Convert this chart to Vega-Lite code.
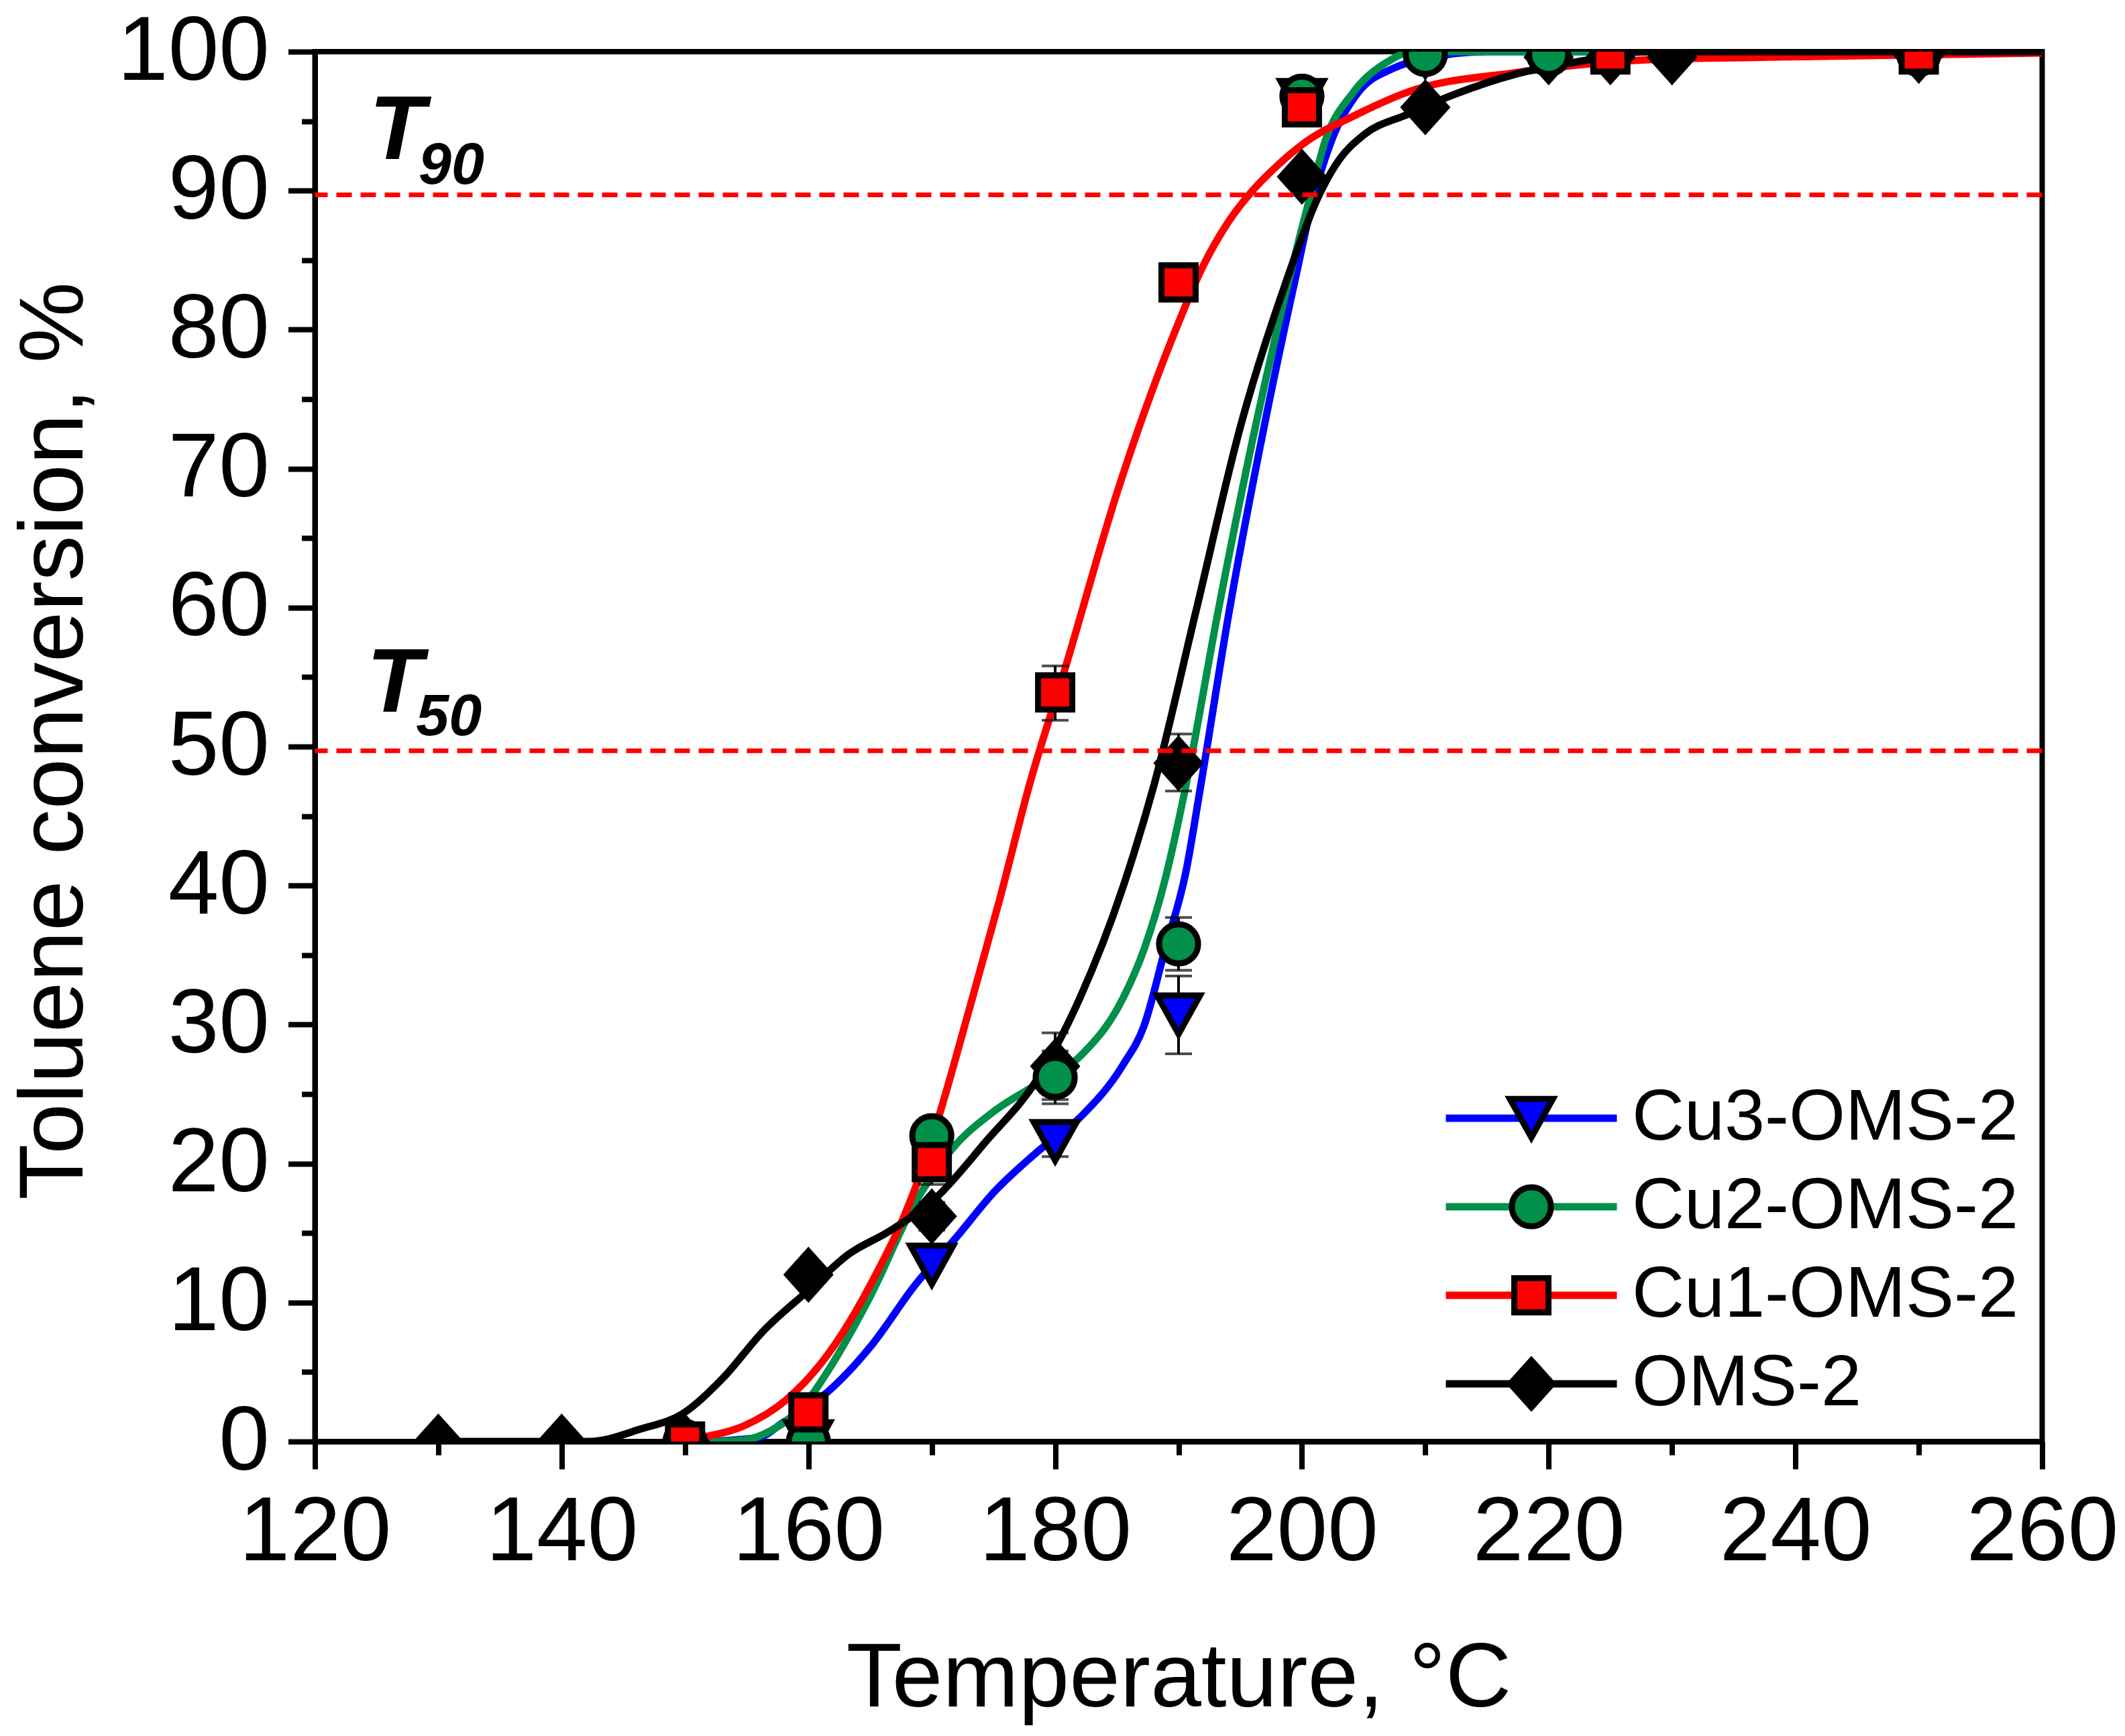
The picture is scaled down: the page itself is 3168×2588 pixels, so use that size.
{
  "$schema": "https://vega.github.io/schema/vega-lite/v6.json",
  "width": 2575,
  "height": 2072,
  "autosize": {"type": "none"},
  "padding": {"left": 469.5, "top": 77, "right": 123.5, "bottom": 439},
  "background": "white",
  "datasets": {
    "curves": [
      {"sample": "Cu3-OMS-2", "T": 152, "conv": 0},
      {"sample": "Cu3-OMS-2", "T": 156, "conv": 0.3},
      {"sample": "Cu3-OMS-2", "T": 158, "conv": 1.4},
      {"sample": "Cu3-OMS-2", "T": 161.6, "conv": 3.6},
      {"sample": "Cu3-OMS-2", "T": 165.1, "conv": 6.9},
      {"sample": "Cu3-OMS-2", "T": 168.6, "conv": 11.2},
      {"sample": "Cu3-OMS-2", "T": 172, "conv": 14.7},
      {"sample": "Cu3-OMS-2", "T": 175.1, "conv": 18.0},
      {"sample": "Cu3-OMS-2", "T": 178.5, "conv": 20.8},
      {"sample": "Cu3-OMS-2", "T": 182, "conv": 23.3},
      {"sample": "Cu3-OMS-2", "T": 185.5, "conv": 27.1},
      {"sample": "Cu3-OMS-2", "T": 187.2, "conv": 29.9},
      {"sample": "Cu3-OMS-2", "T": 188.9, "conv": 35.4},
      {"sample": "Cu3-OMS-2", "T": 190.6, "conv": 41.0},
      {"sample": "Cu3-OMS-2", "T": 191.8, "conv": 47.2},
      {"sample": "Cu3-OMS-2", "T": 194.1, "conv": 59.7},
      {"sample": "Cu3-OMS-2", "T": 197, "conv": 73.3},
      {"sample": "Cu3-OMS-2", "T": 199.4, "conv": 83.4},
      {"sample": "Cu3-OMS-2", "T": 201, "conv": 89.7},
      {"sample": "Cu3-OMS-2", "T": 202.4, "conv": 93.6},
      {"sample": "Cu3-OMS-2", "T": 204.5, "conv": 97.0},
      {"sample": "Cu3-OMS-2", "T": 207.4, "conv": 98.8},
      {"sample": "Cu3-OMS-2", "T": 210, "conv": 99.5},
      {"sample": "Cu3-OMS-2", "T": 215, "conv": 100},
      {"sample": "Cu3-OMS-2", "T": 260, "conv": 100},

      {"sample": "Cu2-OMS-2", "T": 152, "conv": 0},
      {"sample": "Cu2-OMS-2", "T": 154.7, "conv": 0.1},
      {"sample": "Cu2-OMS-2", "T": 157, "conv": 0.8},
      {"sample": "Cu2-OMS-2", "T": 159.9, "conv": 2.9},
      {"sample": "Cu2-OMS-2", "T": 161.6, "conv": 5.1},
      {"sample": "Cu2-OMS-2", "T": 165.1, "conv": 10.6},
      {"sample": "Cu2-OMS-2", "T": 168.6, "conv": 17.1},
      {"sample": "Cu2-OMS-2", "T": 171.6, "conv": 21.0},
      {"sample": "Cu2-OMS-2", "T": 175.1, "conv": 23.8},
      {"sample": "Cu2-OMS-2", "T": 178.5, "conv": 25.7},
      {"sample": "Cu2-OMS-2", "T": 182, "conv": 27.7},
      {"sample": "Cu2-OMS-2", "T": 185.5, "conv": 31.9},
      {"sample": "Cu2-OMS-2", "T": 187.2, "conv": 35.4},
      {"sample": "Cu2-OMS-2", "T": 188.9, "conv": 40.4},
      {"sample": "Cu2-OMS-2", "T": 190.6, "conv": 47.2},
      {"sample": "Cu2-OMS-2", "T": 193.2, "conv": 59.7},
      {"sample": "Cu2-OMS-2", "T": 196.3, "conv": 73.3},
      {"sample": "Cu2-OMS-2", "T": 198.9, "conv": 83.4},
      {"sample": "Cu2-OMS-2", "T": 200.7, "conv": 89.7},
      {"sample": "Cu2-OMS-2", "T": 201.9, "conv": 93.6},
      {"sample": "Cu2-OMS-2", "T": 204.1, "conv": 97.0},
      {"sample": "Cu2-OMS-2", "T": 207, "conv": 99.3},
      {"sample": "Cu2-OMS-2", "T": 209, "conv": 100},
      {"sample": "Cu2-OMS-2", "T": 260, "conv": 100},

      {"sample": "Cu1-OMS-2", "T": 150, "conv": 0},
      {"sample": "Cu1-OMS-2", "T": 151.2, "conv": 0.25},
      {"sample": "Cu1-OMS-2", "T": 154.7, "conv": 1.1},
      {"sample": "Cu1-OMS-2", "T": 158.2, "conv": 3.0},
      {"sample": "Cu1-OMS-2", "T": 161.6, "conv": 6.3},
      {"sample": "Cu1-OMS-2", "T": 165.1, "conv": 11.4},
      {"sample": "Cu1-OMS-2", "T": 168.6, "conv": 18.1},
      {"sample": "Cu1-OMS-2", "T": 170.3, "conv": 22.6},
      {"sample": "Cu1-OMS-2", "T": 173.1, "conv": 31.3},
      {"sample": "Cu1-OMS-2", "T": 175.5, "conv": 39.0},
      {"sample": "Cu1-OMS-2", "T": 177.9, "conv": 47.2},
      {"sample": "Cu1-OMS-2", "T": 180.8, "conv": 55.6},
      {"sample": "Cu1-OMS-2", "T": 185.1, "conv": 68.5},
      {"sample": "Cu1-OMS-2", "T": 190, "conv": 80.5},
      {"sample": "Cu1-OMS-2", "T": 192, "conv": 84.6},
      {"sample": "Cu1-OMS-2", "T": 194, "conv": 87.7},
      {"sample": "Cu1-OMS-2", "T": 196, "conv": 90.0},
      {"sample": "Cu1-OMS-2", "T": 198, "conv": 91.8},
      {"sample": "Cu1-OMS-2", "T": 200, "conv": 93.3},
      {"sample": "Cu1-OMS-2", "T": 204.5, "conv": 95.5},
      {"sample": "Cu1-OMS-2", "T": 208.6, "conv": 97.1},
      {"sample": "Cu1-OMS-2", "T": 217.4, "conv": 98.5},
      {"sample": "Cu1-OMS-2", "T": 227.6, "conv": 99.4},
      {"sample": "Cu1-OMS-2", "T": 237.7, "conv": 99.6},
      {"sample": "Cu1-OMS-2", "T": 260, "conv": 99.9},

      {"sample": "OMS-2", "T": 130, "conv": 0},
      {"sample": "OMS-2", "T": 140, "conv": 0},
      {"sample": "OMS-2", "T": 142.2, "conv": 0},
      {"sample": "OMS-2", "T": 146.4, "conv": 0.9},
      {"sample": "OMS-2", "T": 149.8, "conv": 2.0},
      {"sample": "OMS-2", "T": 153, "conv": 4.5},
      {"sample": "OMS-2", "T": 156.4, "conv": 8.0},
      {"sample": "OMS-2", "T": 159.9, "conv": 10.8},
      {"sample": "OMS-2", "T": 163.3, "conv": 13.5},
      {"sample": "OMS-2", "T": 166.5, "conv": 15.1},
      {"sample": "OMS-2", "T": 170.3, "conv": 17.5},
      {"sample": "OMS-2", "T": 174.4, "conv": 21.6},
      {"sample": "OMS-2", "T": 178.5, "conv": 26.0},
      {"sample": "OMS-2", "T": 182, "conv": 31.9},
      {"sample": "OMS-2", "T": 185.5, "conv": 39.9},
      {"sample": "OMS-2", "T": 188, "conv": 47.2},
      {"sample": "OMS-2", "T": 191.4, "conv": 59.7},
      {"sample": "OMS-2", "T": 195.1, "conv": 73.3},
      {"sample": "OMS-2", "T": 198.7, "conv": 83.4},
      {"sample": "OMS-2", "T": 201.4, "conv": 89.7},
      {"sample": "OMS-2", "T": 203, "conv": 92.2},
      {"sample": "OMS-2", "T": 205, "conv": 94.0},
      {"sample": "OMS-2", "T": 208.6, "conv": 95.5},
      {"sample": "OMS-2", "T": 212.3, "conv": 96.9},
      {"sample": "OMS-2", "T": 217.4, "conv": 98.4},
      {"sample": "OMS-2", "T": 222.5, "conv": 99.3},
      {"sample": "OMS-2", "T": 228, "conv": 100},
      {"sample": "OMS-2", "T": 260, "conv": 100}
    ],
    "points": [
      {"sample": "Cu3-OMS-2", "T": 160, "conv": 0},
      {"sample": "Cu3-OMS-2", "T": 170, "conv": 12.7},
      {"sample": "Cu3-OMS-2", "T": 180, "conv": 21.6, "lo": 20.5, "hi": 22.7},
      {"sample": "Cu3-OMS-2", "T": 190, "conv": 30.7, "lo": 27.9, "hi": 33.5},
      {"sample": "Cu3-OMS-2", "T": 200, "conv": 96.5},
      {"sample": "Cu3-OMS-2", "T": 210, "conv": 99.7},
      {"sample": "Cu3-OMS-2", "T": 220, "conv": 99.5},
      {"sample": "Cu3-OMS-2", "T": 225, "conv": 99.5},
      {"sample": "Cu3-OMS-2", "T": 230, "conv": 99.4},
      {"sample": "Cu3-OMS-2", "T": 250, "conv": 99.5},
      {"sample": "OMS-2", "T": 130, "conv": 0},
      {"sample": "OMS-2", "T": 140, "conv": 0},
      {"sample": "OMS-2", "T": 150, "conv": 0},
      {"sample": "OMS-2", "T": 160, "conv": 12.0},
      {"sample": "OMS-2", "T": 170, "conv": 16.2, "lo": 15.2, "hi": 17.2},
      {"sample": "OMS-2", "T": 180, "conv": 27.0, "lo": 24.6, "hi": 29.4},
      {"sample": "OMS-2", "T": 190, "conv": 48.8, "lo": 46.8, "hi": 50.9},
      {"sample": "OMS-2", "T": 200, "conv": 91.0},
      {"sample": "OMS-2", "T": 210, "conv": 96.0},
      {"sample": "OMS-2", "T": 220, "conv": 99.6},
      {"sample": "OMS-2", "T": 225, "conv": 99.6},
      {"sample": "OMS-2", "T": 230, "conv": 99.6},
      {"sample": "OMS-2", "T": 250, "conv": 99.7},
      {"sample": "Cu2-OMS-2", "T": 150, "conv": 0},
      {"sample": "Cu2-OMS-2", "T": 160, "conv": 0},
      {"sample": "Cu2-OMS-2", "T": 170, "conv": 22.0, "lo": 20.8, "hi": 23.2},
      {"sample": "Cu2-OMS-2", "T": 180, "conv": 26.2, "lo": 24.3, "hi": 28.1},
      {"sample": "Cu2-OMS-2", "T": 190, "conv": 35.8, "lo": 33.9, "hi": 37.7},
      {"sample": "Cu2-OMS-2", "T": 200, "conv": 96.8, "lo": 95.6, "hi": 98.0},
      {"sample": "Cu2-OMS-2", "T": 210, "conv": 99.8},
      {"sample": "Cu2-OMS-2", "T": 220, "conv": 99.8},
      {"sample": "Cu2-OMS-2", "T": 250, "conv": 99.8},
      {"sample": "Cu1-OMS-2", "T": 150, "conv": 0},
      {"sample": "Cu1-OMS-2", "T": 160, "conv": 2.1},
      {"sample": "Cu1-OMS-2", "T": 170, "conv": 20.1, "lo": 18.5, "hi": 21.7},
      {"sample": "Cu1-OMS-2", "T": 180, "conv": 53.9, "lo": 51.9, "hi": 55.8},
      {"sample": "Cu1-OMS-2", "T": 190, "conv": 83.4},
      {"sample": "Cu1-OMS-2", "T": 200, "conv": 96.0, "lo": 95.3, "hi": 96.7},
      {"sample": "Cu1-OMS-2", "T": 225, "conv": 99.8},
      {"sample": "Cu1-OMS-2", "T": 250, "conv": 99.8}
    ],
    "levels": [
      {"level": 89.7},
      {"level": 49.7}
    ],
    "notes": [
      {"kind": "main", "T": 124.4, "conv": 92.3, "label": "T"},
      {"kind": "sub", "T": 128.4, "conv": 90.5, "label": "90"},
      {"kind": "main", "T": 124.2, "conv": 52.5, "label": "T"},
      {"kind": "sub", "T": 128.2, "conv": 50.8, "label": "50"}
    ]
  },
  "layer": [
    {
      "data": {"name": "curves"},
      "mark": {"type": "line", "strokeWidth": 11, "interpolate": "monotone", "clip": true, "strokeCap": "round"},
      "encoding": {
        "x": {
          "field": "T", "type": "quantitative",
          "scale": {"domain": [120, 260], "nice": false, "zero": false},
          "axis": {
            "orient": "bottom",
            "values": [120, 140, 160, 180, 200, 220, 240, 260],
            "title": "Temperature, °C",
            "titleX": 1287.5, "titleY": 394, "titleAlign": "center", "titleBaseline": "alphabetic",
            "tickSize": 41, "labelPadding": 28
          }
        },
        "y": {
          "field": "conv", "type": "quantitative",
          "scale": {"domain": [0, 100], "nice": false, "zero": false},
          "axis": {
            "orient": "left",
            "values": [0, 10, 20, 30, 40, 50, 60, 70, 80, 90, 100],
            "title": "Toluene conversion, %",
            "titleX": -347.5, "titleY": 1027, "titleAngle": -90, "titleAlign": "center", "titleBaseline": "alphabetic",
            "tickSize": 40, "labelPadding": 28
          }
        },
        "color": {
          "field": "sample", "type": "nominal",
          "sort": ["Cu3-OMS-2", "Cu2-OMS-2", "Cu1-OMS-2", "OMS-2"],
          "scale": {"range": ["#0000FF", "#00904A", "#FF0000", "#000000"]},
          "legend": {
            "orient": "none", "legendX": 1759.5, "legendY": 1536, "title": null,
            "symbolType": "M-4.25,0H4.25", "symbolSize": 3600, "symbolStrokeWidth": 11,
            "labelFontSize": 108, "labelOffset": 96, "rowPadding": 24, "padding": 0
          }
        }
      }
    },
    {
      "data": {"name": "points"},
      "transform": [{"filter": "isValid(datum.lo)"}],
      "mark": {"type": "rule", "color": "black", "strokeWidth": 4, "clip": true},
      "encoding": {
        "x": {
          "field": "T", "type": "quantitative",
          "axis": {
            "orient": "bottom",
            "values": [130, 150, 170, 190, 210, 230, 250],
            "labels": false, "domain": false, "title": null, "tickSize": 20
          }
        },
        "y": {
          "field": "lo", "type": "quantitative",
          "axis": {
            "orient": "left",
            "values": [5, 15, 25, 35, 45, 55, 65, 75, 85, 95],
            "labels": false, "domain": false, "title": null, "tickSize": 20
          }
        },
        "y2": {"field": "hi"}
      }
    },
    {
      "data": {"name": "points"},
      "transform": [{"filter": "isValid(datum.lo)"}],
      "mark": {"type": "tick", "orient": "horizontal", "color": "black", "size": 40, "thickness": 4, "clip": true},
      "encoding": {
        "x": {"field": "T", "type": "quantitative", "axis": null},
        "y": {"field": "lo", "type": "quantitative", "axis": null}
      }
    },
    {
      "data": {"name": "points"},
      "transform": [{"filter": "isValid(datum.hi)"}],
      "mark": {"type": "tick", "orient": "horizontal", "color": "black", "size": 40, "thickness": 4, "clip": true},
      "encoding": {
        "x": {"field": "T", "type": "quantitative", "axis": null},
        "y": {"field": "hi", "type": "quantitative", "axis": null}
      }
    },
    {
      "data": {"name": "points"},
      "mark": {"type": "point", "filled": true, "opacity": 1, "stroke": "black", "strokeWidth": 9, "strokeJoin": "miter", "size": 3600, "clip": true},
      "encoding": {
        "x": {"field": "T", "type": "quantitative", "axis": null},
        "y": {"field": "conv", "type": "quantitative", "axis": null},
        "fill": {
          "field": "sample", "type": "nominal",
          "scale": {
            "domain": ["Cu3-OMS-2", "Cu2-OMS-2", "Cu1-OMS-2", "OMS-2"],
            "range": ["#0000FF", "#00904A", "#FF0000", "#000000"]
          },
          "legend": {
            "orient": "none", "legendX": 1759.5, "legendY": 1536, "title": null,
            "symbolSize": 3600, "symbolStrokeWidth": 9, "symbolStrokeColor": "black", "symbolOpacity": 1,
            "labelFontSize": 108, "labelOffset": 96, "rowPadding": 24, "padding": 0, "labelOpacity": 0,
            "encode": {"symbols": {"update": {"stroke": {"value": "black"}, "strokeWidth": {"value": 9}, "strokeJoin": {"value": "miter"}}}}
          }
        },
        "shape": {
          "field": "sample", "type": "nominal",
          "scale": {
            "domain": ["Cu3-OMS-2", "Cu2-OMS-2", "Cu1-OMS-2", "OMS-2"],
            "range": [
              "M-1.07,-0.96L1.07,-0.96L0,0.96Z",
              "M-0.97,0A0.97,0.97,0,1,1,0.97,0A0.97,0.97,0,1,1,-0.97,0Z",
              "M-0.85,-0.85L0.85,-0.85L0.85,0.85L-0.85,0.85Z",
              "M0,-1.17L1.05,0L0,1.17L-1.05,0Z"
            ]
          },
          "legend": {
            "orient": "none", "legendX": 1759.5, "legendY": 1536, "title": null,
            "symbolSize": 3600, "symbolStrokeWidth": 9, "symbolStrokeColor": "black", "symbolOpacity": 1,
            "labelFontSize": 108, "labelOffset": 96, "rowPadding": 24, "padding": 0, "labelOpacity": 0,
            "encode": {"symbols": {"update": {"stroke": {"value": "black"}, "strokeWidth": {"value": 9}, "strokeJoin": {"value": "miter"}}}}
          }
        }
      }
    },
    {
      "data": {"name": "levels"},
      "mark": {"type": "rule", "color": "#FF0000", "strokeWidth": 7, "strokeDash": [23, 13]},
      "encoding": {
        "y": {"field": "level", "type": "quantitative", "axis": null}
      }
    },
    {
      "data": {"name": "notes"},
      "transform": [{"filter": "datum.kind === 'main'"}],
      "mark": {"type": "text", "align": "left", "baseline": "alphabetic", "font": "Liberation Sans", "fontSize": 136, "fontWeight": "bold", "fontStyle": "italic", "color": "black"},
      "encoding": {
        "x": {"field": "T", "type": "quantitative", "axis": null},
        "y": {"field": "conv", "type": "quantitative", "axis": null},
        "text": {"field": "label"}
      }
    },
    {
      "data": {"name": "notes"},
      "transform": [{"filter": "datum.kind === 'sub'"}],
      "mark": {"type": "text", "align": "left", "baseline": "alphabetic", "font": "Liberation Sans", "fontSize": 88, "fontWeight": "bold", "fontStyle": "italic", "color": "black"},
      "encoding": {
        "x": {"field": "T", "type": "quantitative", "axis": null},
        "y": {"field": "conv", "type": "quantitative", "axis": null},
        "text": {"field": "label"}
      }
    }
  ],
  "resolve": {"axis": {"x": "independent", "y": "independent"}},
  "config": {
    "view": {"stroke": "black", "strokeWidth": 8},
    "font": "Liberation Sans",
    "axis": {
      "grid": false,
      "zindex": 1,
      "domainColor": "black",
      "domainWidth": 8,
      "tickColor": "black",
      "tickWidth": 8,
      "labelFont": "Liberation Sans",
      "labelFontSize": 136,
      "labelColor": "black",
      "labelLimit": 1000,
      "labelFlush": false,
      "labelOverlap": false,
      "labelBound": false,
      "titleFont": "Liberation Sans",
      "titleFontSize": 136,
      "titleFontWeight": "normal",
      "titleColor": "black",
      "titleLimit": 3000
    },
    "legend": {
      "labelFont": "Liberation Sans",
      "labelColor": "black",
      "labelLimit": 2000
    }
  }
}
